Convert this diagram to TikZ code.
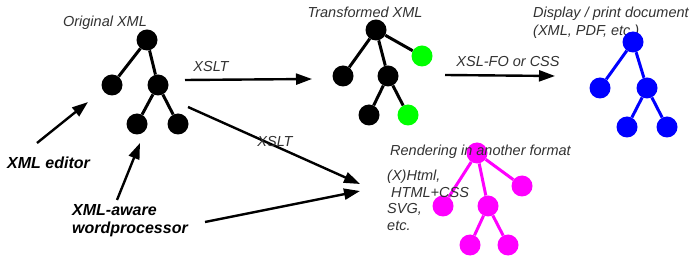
\documentclass[tikz,border=0pt]{standalone}
\usepackage{fontspec}
\setmainfont{Liberation Sans}
\usetikzlibrary{arrows.meta}

\definecolor{txtgray}{RGB}{50,50,50}
\definecolor{xmlgreen}{RGB}{0,255,0}
\definecolor{xmlblue}{RGB}{0,0,255}
\definecolor{xmlpink}{RGB}{255,0,255}

\tikzset{
  xml-dot/.style={circle, inner sep=0pt, minimum size=21pt, fill=#1},
  xml-dot/.default=black,
  xml-edge/.style={line width=3pt, draw=#1},
  xml-edge/.default=black,
  xml-arrow/.style={-{Triangle[length=16pt,width=11pt]}, line width=2.4pt},
  xml-label/.style={font=\itshape\fontsize{14.5}{17.5}\selectfont, text=txtgray, inner sep=0pt},
  xml-tool/.style={font=\bfseries\itshape\fontsize{16}{18}\selectfont, inner sep=0pt, align=left},
}

\begin{document}
\begin{tikzpicture}[x=1pt, y=-1pt]

    \useasboundingbox (0,0) rectangle (700,261);

    % Original XML tree
    \node[xml-label] (origlbl) at (105,23) {Original XML};
    \node[xml-dot] (or)  at (147,40)  {};
    \node[xml-dot] (ol)  at (112,85)  {};
    \node[xml-dot] (om)  at (158,85)  {};
    \node[xml-dot] (og1) at (137,124) {};
    \node[xml-dot] (og2) at (178,124) {};
    \draw[xml-edge] (or) -- (ol);
    \draw[xml-edge] (or) -- (om);
    \draw[xml-edge] (om) -- (og1);
    \draw[xml-edge] (om) -- (og2);

    % Transformed XML tree
    \node[xml-label] (translbl) at (365,12) {Transformed XML};
    \node[xml-dot] (tr)  at (376,30)  {};
    \node[xml-dot=xmlgreen] (tg)  at (422,56)  {};
    \node[xml-dot] (tl)  at (343,76)  {};
    \node[xml-dot] (tm)  at (388,76)  {};
    \node[xml-dot] (tg1) at (369,115) {};
    \node[xml-dot=xmlgreen] (tg2) at (408,115) {};
    \draw[xml-edge] (tr) -- (tl);
    \draw[xml-edge] (tr) -- (tm);
    \draw[xml-edge] (tr) -- (tg);
    \draw[xml-edge] (tm) -- (tg1);
    \draw[xml-edge] (tm) -- (tg2);

    % Display / print document tree
    \node[xml-label, anchor=west, align=left] (displbl) at (533,23)
        {Display / print document\\(XML, PDF, etc.)};
    \node[xml-dot=xmlblue] (dr)  at (633,42)  {};
    \node[xml-dot=xmlblue] (dl)  at (600,88)  {};
    \node[xml-dot=xmlblue] (dm)  at (647,88)  {};
    \node[xml-dot=xmlblue] (dg1) at (627,127) {};
    \node[xml-dot=xmlblue] (dg2) at (667,127) {};
    \draw[xml-edge=xmlblue] (dr) -- (dl);
    \draw[xml-edge=xmlblue] (dr) -- (dm);
    \draw[xml-edge=xmlblue] (dm) -- (dg1);
    \draw[xml-edge=xmlblue] (dm) -- (dg2);

    % Rendering tree
    \node[xml-dot=xmlpink] (rr)  at (477,153) {};
    \node[xml-dot=xmlpink] (rl)  at (443,206) {};
    \node[xml-dot=xmlpink] (rm)  at (488,206) {};
    \node[xml-dot=xmlpink] (rx)  at (522,186) {};
    \node[xml-dot=xmlpink] (rg1) at (470,245) {};
    \node[xml-dot=xmlpink] (rg2) at (508,245) {};
    \draw[xml-edge=xmlpink] (rr) -- (rl);
    \draw[xml-edge=xmlpink] (rr) -- (rm);
    \draw[xml-edge=xmlpink] (rr) -- (rx);
    \draw[xml-edge=xmlpink] (rm) -- (rg1);
    \draw[xml-edge=xmlpink] (rm) -- (rg2);
    \node[xml-label, anchor=west] (rendlbl) at (390,152) {Rendering in another format};
    \node[xml-label, anchor=north west, align=left,
          font=\itshape\fontsize{14.5}{16.5}\selectfont] (fmtlist) at (387,170)
        {(X)Html,\\\hspace{4pt}HTML+CSS\\SVG,\\etc.};

    % Tools
    \node[xml-tool, anchor=west] (editor) at (7,163) {XML editor};
    \node[xml-tool, anchor=west] (wordp) at (72,221) {XML-aware\\wordprocessor};

    % Arrows
    \coordinate (a1s) at (185,80);
    \coordinate (a1e) at (312,79);
    \coordinate (a2s) at (445,75);
    \coordinate (a2e) at (555,76);
    \coordinate (a3s) at (188,107);
    \coordinate (a3e) at (360,184);
    \coordinate (a4s) at (205,222);
    \coordinate (a4e) at (360,191);
    \coordinate (a5s) at (37,143);
    \coordinate (a5e) at (88,102);
    \coordinate (a6s) at (117,200);
    \coordinate (a6e) at (140,143);

    \draw[xml-arrow] (a1s) -- (a1e);
    \draw[xml-arrow] (a2s) -- (a2e);
    \draw[xml-arrow] (a3s) -- (a3e);
    \draw[xml-arrow] (a4s) -- (a4e);
    \draw[xml-arrow] (a5s) -- (a5e);
    \draw[xml-arrow] (a6s) -- (a6e);

    % Arrow labels
    \node[xml-label] (xslt1) at (211,67)  {XSLT};
    \node[xml-label] (xslfo) at (508,62)  {XSL-FO or CSS};
    \node[xml-label] (xslt2) at (275,142) {XSLT};

\end{tikzpicture}
\end{document}
